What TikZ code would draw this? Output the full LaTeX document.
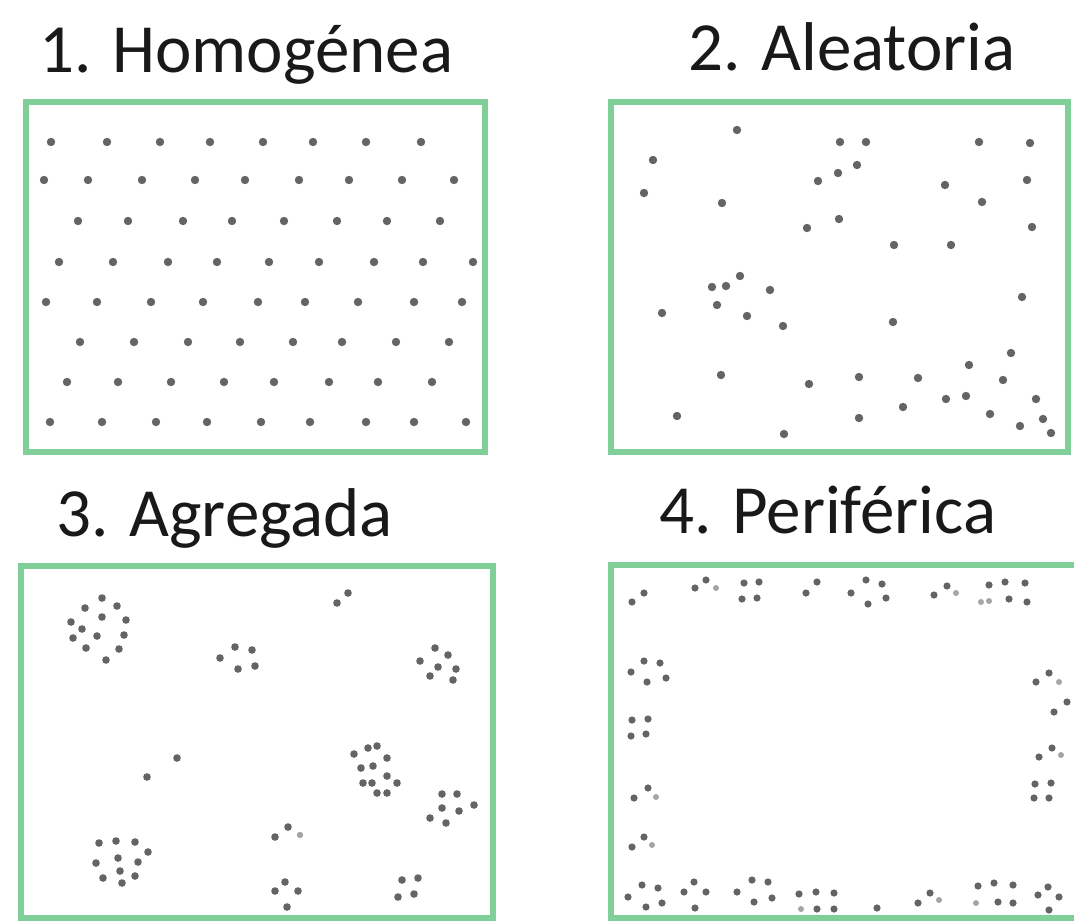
\documentclass[tikz,border=0pt]{standalone}
\usepackage{fontspec}
\setmainfont{Carlito}
\definecolor{boxgreen}{RGB}{128,206,152}
\definecolor{dotgray}{RGB}{100,100,100}
\definecolor{faintgray}{RGB}{165,165,165}
\definecolor{titlegray}{RGB}{25,25,25}
\tikzset{
  panelbox/.style={draw=boxgreen, line width=5.5pt},
  title/.style={anchor=base west, inner sep=0pt, text=titlegray, font=\fontsize{69}{80}\selectfont},
  bigdot/.style={fill=dotgray},
  smalldot/.style={fill=dotgray},
  faintdot/.style={fill=faintgray}
}
\begin{document}
\begin{tikzpicture}[x=1pt,y=-1pt]
\useasboundingbox (0,0) rectangle (1074,922);
\clip (0,0) rectangle (1074,922);
\fill[white] (0,0) rectangle (1074,922);

% titles
\node[title] (t1) at (39,72) {1. Homogénea};
\node[title] (t2) at (688,70) {2. Aleatoria};
\node[title] (t3) at (56,536) {3. Agregada};
\node[title] (t4) at (659,533) {4. Periférica};

% boxes
\draw[panelbox] (26,102) rectangle (485,452);
\draw[panelbox] (611,102) rectangle (1068,452);
\draw[panelbox] (21,566) rectangle (493,918);
\draw[panelbox] (611,565) rectangle (1090,918);

% panel 1: homogeneous
\foreach \x in {51,107,160,210,263,313,366,421} \fill[bigdot] (\x,142) circle (4.2pt);
\foreach \x in {44,88,142,195,245,299,349,402,454} \fill[bigdot] (\x,180) circle (4.2pt);
\foreach \x in {78,128,183,232,284,337,387,440} \fill[bigdot] (\x,221) circle (4.2pt);
\foreach \x in {59,113,168,217,269,319,374,423,473} \fill[bigdot] (\x,262) circle (4.2pt);
\foreach \x in {46,97,151,203,258,305,358,414,462} \fill[bigdot] (\x,302) circle (4.2pt);
\foreach \x in {80,134,188,240,293,342,396,449} \fill[bigdot] (\x,342) circle (4.2pt);
\foreach \x in {67,118,171,224,274,329,378,432} \fill[bigdot] (\x,382) circle (4.2pt);
\foreach \x in {50,102,156,207,261,310,366,414,466} \fill[bigdot] (\x,422) circle (4.2pt);

% panel 2: random
\foreach \x/\y in {737/130,840/142,866/142,979/142,1030/143,653/160,857/165,838/173,818/181,945/185,1027/180,
  644/193,722/203,982/202,839/219,807/228,1032/227,894/245,951/245,740/276,712/287,726/286,770/290,1022/297,
  662/313,717/305,747/316,783/326,893/322,1011/353,969/365,721/375,809/384,859/377,918/378,1003/380,
  946/399,966/396,1036/399,677/416,903/407,859/418,990/414,1020/426,1043/419,1051/433,784/434}
  \fill[bigdot] (\x,\y) circle (4.2pt);

% panel 3: aggregated
\foreach \x/\y in {102/598,85/608,117/606,102/617,126/620,71/622,82/629,97/636,124/635,73/638,86/648,119/649,106/660,
  220/658,235/647,252/650,238/669,255/666,
  337/603,348/593,
  435/648,448/655,420/661,438/667,456/669,430/676,453/680,
  147/777,177/758,
  99/843,116/841,135/842,148/852,118/858,96/863,138/862,120/871,103/878,135/876,122/883,
  354/754,368/748,377/746,387/758,361/768,373/766,387/776,363/783,372/783,397/783,377/793,387/793,
  442/794,457/794,442/808,459/811,474/805,430/818,446/823,
  275/837,288/827,
  285/882,275/891,298/891,287/907,
  402/880,418/878,398/897,414/894}
  \fill[smalldot] (\x,\y) circle (3.8pt);
\fill[faintdot] (300,835) circle (3.2pt);

% panel 4: peripheral
\foreach \x/\y in {632/602,644/593,
  695/588,706/580,
  744/583,759/582,742/599,757/598,
  806/593,817/582,
  851/593,866/580,882/584,868/604,886/598,
  934/595,947/586,
  989/585,1005/582,1025/583,1009/599,1027/602,
  631/672,644/661,660/663,647/682,666/678,
  632/720,648/719,631/736,646/734,
  634/798,648/788,
  632/847,644/837,
  1036/682,1049/673,
  1054/712,1067/702,
  1039/757,1052/748,
  1035/784,1051/783,1034/798,1049/798,
  628/897,642/885,658/888,646/907,662/903,
  684/892,694/882,706/892,695/908,
  737/892,752/880,768/882,754/902,772/898,
  799/894,816/892,834/893,817/909,834/909,
  877/908,
  918/903,930/893,
  978/886,994/883,1013/885,998/902,1013/903,
  1038/895,1048/887,1059/897,1049/910}
  \fill[smalldot] (\x,\y) circle (3.6pt);
\foreach \x/\y in {716/588,956/593,989/601,981/602,1059/682,656/797,652/845,1061/755,801/909,976/903,939/900}
  \fill[faintdot] (\x,\y) circle (3pt);
\end{tikzpicture}
\end{document}
